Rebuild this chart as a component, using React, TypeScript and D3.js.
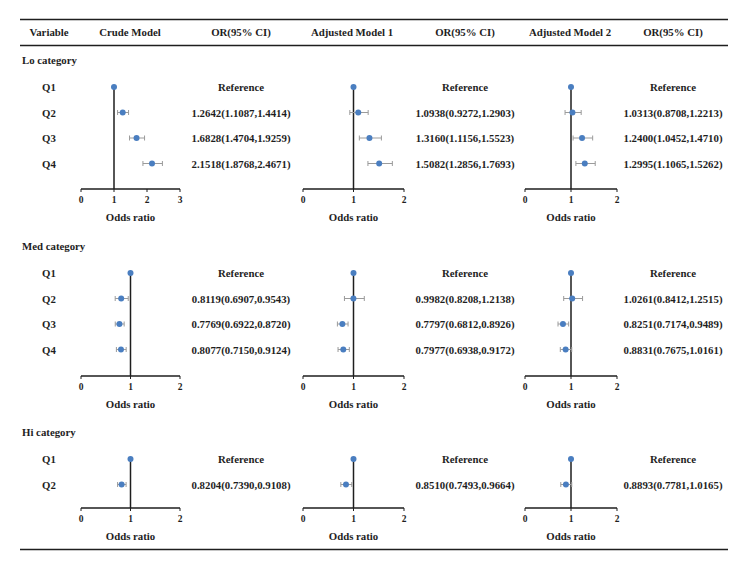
import { useRef, useEffect } from "react";
import * as d3 from "d3";

// Column headers
const headers = [
  "Variable",
  "Crude Model",
  "OR(95% CI)",
  "Adjusted Model 1",
  "OR(95% CI)",
  "Adjusted Model 2",
  "OR(95% CI)",
];

const sections = ["Lo category", "Med category", "Hi category"];
const loRows = ["Q1", "Q2", "Q3", "Q4"];
const medRows = ["Q1", "Q2", "Q3", "Q4"];
const hiRows = ["Q1", "Q2"];

// [OR, lower, upper]; Q1 is the reference
const loCrude = [[1, 1, 1], [1.2642, 1.1087, 1.4414], [1.6828, 1.4704, 1.9259], [2.1518, 1.8768, 2.4671]];
const loAdj1 = [[1, 1, 1], [1.0938, 0.9272, 1.2903], [1.316, 1.1156, 1.5523], [1.5082, 1.2856, 1.7693]];
const loAdj2 = [[1, 1, 1], [1.0313, 0.8708, 1.2213], [1.24, 1.0452, 1.471], [1.2995, 1.1065, 1.5262]];

const medCrude = [[1, 1, 1], [0.8119, 0.6907, 0.9543], [0.7769, 0.6922, 0.872], [0.8077, 0.715, 0.9124]];
const medAdj1 = [[1, 1, 1], [0.9982, 0.8208, 1.2138], [0.7797, 0.6812, 0.8926], [0.7977, 0.6938, 0.9172]];
const medAdj2 = [[1, 1, 1], [1.0261, 0.8412, 1.2515], [0.8251, 0.7174, 0.9489], [0.8831, 0.7675, 1.0161]];

const hiCrude = [[1, 1, 1], [0.8204, 0.739, 0.9108]];
const hiAdj1 = [[1, 1, 1], [0.851, 0.7493, 0.9664]];
const hiAdj2 = [[1, 1, 1], [0.8893, 0.7781, 1.0165]];

const loTicks = [[0, 1, 2, 3], [0, 1, 2], [0, 1, 2]];
const medTicks = [[0, 1, 2], [0, 1, 2], [0, 1, 2]];
const hiTicks = [[0, 1, 2], [0, 1, 2], [0, 1, 2]];

export default function App() {
  const svgRef = useRef<SVGSVGElement>(null);

  useEffect(() => {
    if (!svgRef.current) return;
    const svg = d3.select(svgRef.current);
    svg.selectAll("*").remove();

    const font = "Liberation Serif, Times New Roman, serif";
    const dark = "#1e1e1e";
    const blue = "#4a7ec0";
    const grey = "#9b9b9b";
    const fmt = d3.format(".4f");

    const headerX = [49, 130, 241, 352, 465, 570, 673];
    const panelRanges = [[81, 180], [303, 404], [525, 617]];
    const orX = [241, 465, 673];

    // table rules
    [19.5, 45.5, 549.5].forEach((ry) => {
      svg.append("line").attr("x1", 20).attr("x2", 728).attr("y1", ry).attr("y2", ry)
        .attr("stroke", dark).attr("stroke-width", 1.3);
    });

    svg.selectAll("text.header")
      .data(headers)
      .join("text")
      .attr("class", "header")
      .attr("x", (_, i) => headerX[i])
      .attr("y", 36)
      .attr("text-anchor", "middle")
      .attr("font-family", font)
      .attr("font-weight", "bold")
      .attr("font-size", 10.8)
      .attr("fill", dark)
      .text((d) => d);

    const blocks = [
      { title: sections[0], rows: loRows, models: [loCrude, loAdj1, loAdj2], ticks: loTicks, top: 60, axisY: 189 },
      { title: sections[1], rows: medRows, models: [medCrude, medAdj1, medAdj2], ticks: medTicks, top: 246, axisY: 376 },
      { title: sections[2], rows: hiRows, models: [hiCrude, hiAdj1, hiAdj2], ticks: hiTicks, top: 432, axisY: 508 },
    ];

    blocks.forEach((b) => {
      const g = svg.append("g");
      const y = d3.scaleLinear().domain([0, 1]).range([b.top + 27, b.top + 52.5]);

      g.append("text")
        .attr("x", 22)
        .attr("y", b.top + 4)
        .attr("font-family", font)
        .attr("font-weight", "bold")
        .attr("font-size", 10.8)
        .attr("fill", dark)
        .text(b.title);

      g.selectAll("text.row")
        .data(b.rows)
        .join("text")
        .attr("class", "row")
        .attr("x", 49)
        .attr("y", (_, i) => y(i) + 4)
        .attr("text-anchor", "middle")
        .attr("font-family", font)
        .attr("font-weight", "bold")
        .attr("font-size", 10.8)
        .attr("fill", dark)
        .text((d) => d);

      b.models.forEach((m, mi) => {
        const ticks = b.ticks[mi];
        const xMax = ticks[ticks.length - 1];
        const x = d3.scaleLinear().domain([0, xMax]).range(panelRanges[mi]);

        // axis
        g.append("line")
          .attr("x1", x(0)).attr("x2", x(xMax))
          .attr("y1", b.axisY).attr("y2", b.axisY)
          .attr("stroke", dark).attr("stroke-width", 1.3);
        g.selectAll(`line.tick${mi}`)
          .data(ticks)
          .join("line")
          .attr("class", `tick${mi}`)
          .attr("x1", (d) => x(d)).attr("x2", (d) => x(d))
          .attr("y1", b.axisY).attr("y2", b.axisY + 3)
          .attr("stroke", dark).attr("stroke-width", 1);
        g.selectAll(`text.tl${mi}`)
          .data(ticks)
          .join("text")
          .attr("class", `tl${mi}`)
          .attr("x", (d) => x(d))
          .attr("y", b.axisY + 14)
          .attr("text-anchor", "middle")
          .attr("font-family", font)
          .attr("font-weight", "bold")
          .attr("font-size", 9.5)
          .attr("fill", dark)
          .text((d) => d);
        g.append("text")
          .attr("x", x(xMax / 2))
          .attr("y", b.axisY + 32)
          .attr("text-anchor", "middle")
          .attr("font-family", font)
          .attr("font-weight", "bold")
          .attr("font-size", 10.8)
          .attr("fill", dark)
          .text("Odds ratio");

        // reference line at OR = 1
        g.append("line")
          .attr("x1", x(1)).attr("x2", x(1))
          .attr("y1", y(0)).attr("y2", b.axisY)
          .attr("stroke", dark).attr("stroke-width", 1.5);

        const pts = m.map((d, i) => ({ or: d[0], lo: d[1], hi: d[2], i }));

        // error bars
        const eb = g.selectAll(`g.eb${mi}`)
          .data(pts.filter((p) => p.i > 0))
          .join("g")
          .attr("class", `eb${mi}`)
          .attr("stroke", grey)
          .attr("stroke-width", 1);
        eb.append("line")
          .attr("x1", (p) => x(p.lo)).attr("x2", (p) => x(p.hi))
          .attr("y1", (p) => y(p.i)).attr("y2", (p) => y(p.i));
        eb.append("line")
          .attr("x1", (p) => x(p.lo)).attr("x2", (p) => x(p.lo))
          .attr("y1", (p) => y(p.i) - 2.5).attr("y2", (p) => y(p.i) + 2.5);
        eb.append("line")
          .attr("x1", (p) => x(p.hi)).attr("x2", (p) => x(p.hi))
          .attr("y1", (p) => y(p.i) - 2.5).attr("y2", (p) => y(p.i) + 2.5);

        g.selectAll(`circle.pt${mi}`)
          .data(pts)
          .join("circle")
          .attr("class", `pt${mi}`)
          .attr("cx", (p) => x(p.or))
          .attr("cy", (p) => y(p.i))
          .attr("r", 3)
          .attr("fill", blue);

        g.selectAll(`text.or${mi}`)
          .data(pts)
          .join("text")
          .attr("class", `or${mi}`)
          .attr("x", orX[mi])
          .attr("y", (p) => y(p.i) + 4)
          .attr("text-anchor", "middle")
          .attr("font-family", font)
          .attr("font-weight", "bold")
          .attr("font-size", 10.8)
          .attr("fill", dark)
          .text((p) => (p.i === 0 ? "Reference" : `${fmt(p.or)}(${fmt(p.lo)},${fmt(p.hi)})`));
      });
    });
  }, []);

  return (
    <svg
      ref={svgRef}
      width={748}
      height={571}
      style={{ position: "absolute", left: 0, top: 0, background: "#fff" }}
    />
  );
}
